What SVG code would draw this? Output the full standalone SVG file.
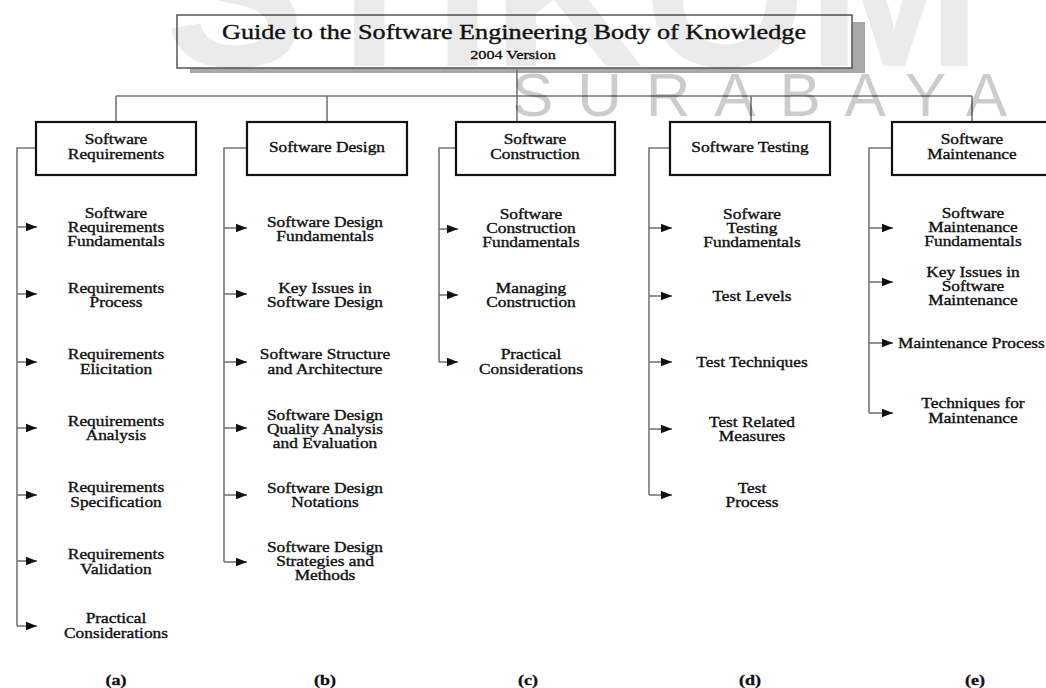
<svg xmlns="http://www.w3.org/2000/svg" width="1046" height="688" viewBox="0 0 1046 688">
<style>
text{font-family:"Liberation Serif","Times New Roman",serif;fill:#111;text-anchor:middle}
.n text,#header text,.lbl text{stroke:#111;stroke-width:0.35}
.n text{font-size:14px}
.lbl text{font-size:15px;font-weight:bold}
.box{fill:#fff;stroke:#111;stroke-width:2.2}
.c{fill:none;stroke:#777;stroke-width:1.6}
.wm{font-family:"Liberation Sans",Arial,sans-serif;fill:#000}
</style>
<defs>
<marker id="ah" markerWidth="12" markerHeight="10" refX="11" refY="5" orient="auto" markerUnits="userSpaceOnUse"><path d="M0,0.8 L11,5 L0,9.2 z" fill="#111"/></marker>
</defs>
<rect width="1046" height="688" fill="#fff"/>

<g id="header">
<rect x="190" y="22" width="675" height="51" fill="#a8a8a8"/>
<rect x="177" y="15" width="675" height="53" fill="#fff" stroke="#555" stroke-width="1.5"/>
<g transform="translate(514 0) scale(1.31 1)"><text x="0" y="39" font-size="20">Guide to the Software Engineering Body of Knowledge</text></g>
<g transform="translate(513 0) scale(1.2 1)"><text x="0" y="59" font-size="13.5">2004 Version</text></g>
</g>

<g id="connectors">
<path class="c" d="M517,68 V122 M116,96 H972 M116,96 V122 M327,96 V122 M751,96 V122 M972,96 V122"/>
<path class="c" d="M36,148 H17 V626 M247,148 H224 V562 M456,148 H439 V362 M670,148 H649 V495 M892,148 H869 V413"/>
<g class="c" marker-end="url(#ah)">
<path d="M17,227 H37"/><path d="M17,294 H37"/><path d="M17,362 H37"/><path d="M17,428 H37"/><path d="M17,495 H37"/><path d="M17,561 H37"/><path d="M17,626 H37"/>
<path d="M224,228 H247"/><path d="M224,294 H247"/><path d="M224,362 H247"/><path d="M224,428 H247"/><path d="M224,495 H247"/><path d="M224,562 H247"/>
<path d="M439,229 H458"/><path d="M439,295 H458"/><path d="M439,362 H458"/>
<path d="M649,228 H672"/><path d="M649,296 H672"/><path d="M649,362 H672"/><path d="M649,429 H672"/><path d="M649,495 H672"/>
<path d="M869,228 H893"/><path d="M869,282 H893"/><path d="M869,343 H893"/><path d="M869,413 H893"/>
</g>
</g>

<g id="box-a" class="n"><rect class="box" x="36" y="122" width="160" height="53"/><g transform="translate(116 0) scale(1.24 1)"><text><tspan x="0" y="144">Software</tspan><tspan x="0" y="159">Requirements</tspan></text></g></g>
<g id="box-b" class="n"><rect class="box" x="247" y="122" width="160" height="53"/><g transform="translate(327 0) scale(1.24 1)"><text x="0" y="152">Software Design</text></g></g>
<g id="box-c" class="n"><rect class="box" x="456" y="122" width="159" height="53"/><g transform="translate(535 0) scale(1.24 1)"><text><tspan x="0" y="144">Software</tspan><tspan x="0" y="159">Construction</tspan></text></g></g>
<g id="box-d" class="n"><rect class="box" x="670" y="122" width="160" height="53"/><g transform="translate(750 0) scale(1.24 1)"><text x="0" y="152">Software Testing</text></g></g>
<g id="box-e" class="n"><rect class="box" x="892" y="122" width="160" height="53"/><g transform="translate(972 0) scale(1.24 1)"><text><tspan x="0" y="144">Software</tspan><tspan x="0" y="159">Maintenance</tspan></text></g></g>

<g id="a1" class="n" transform="translate(116 0) scale(1.24 1)"><text><tspan x="0" y="218">Software</tspan><tspan x="0" y="232">Requirements</tspan><tspan x="0" y="246">Fundamentals</tspan></text></g>
<g id="a2" class="n" transform="translate(116 0) scale(1.24 1)"><text><tspan x="0" y="293">Requirements</tspan><tspan x="0" y="307">Process</tspan></text></g>
<g id="a3" class="n" transform="translate(116 0) scale(1.24 1)"><text><tspan x="0" y="359">Requirements</tspan><tspan x="0" y="374">Elicitation</tspan></text></g>
<g id="a4" class="n" transform="translate(116 0) scale(1.24 1)"><text><tspan x="0" y="426">Requirements</tspan><tspan x="0" y="440">Analysis</tspan></text></g>
<g id="a5" class="n" transform="translate(116 0) scale(1.24 1)"><text><tspan x="0" y="492">Requirements</tspan><tspan x="0" y="507">Specification</tspan></text></g>
<g id="a6" class="n" transform="translate(116 0) scale(1.24 1)"><text><tspan x="0" y="559">Requirements</tspan><tspan x="0" y="574">Validation</tspan></text></g>
<g id="a7" class="n" transform="translate(116 0) scale(1.24 1)"><text><tspan x="0" y="623">Practical</tspan><tspan x="0" y="638">Considerations</tspan></text></g>

<g id="b1" class="n" transform="translate(325 0) scale(1.24 1)"><text><tspan x="0" y="227">Software Design</tspan><tspan x="0" y="241">Fundamentals</tspan></text></g>
<g id="b2" class="n" transform="translate(325 0) scale(1.24 1)"><text><tspan x="0" y="293">Key Issues in</tspan><tspan x="0" y="307">Software Design</tspan></text></g>
<g id="b3" class="n" transform="translate(325 0) scale(1.24 1)"><text><tspan x="0" y="359">Software Structure</tspan><tspan x="0" y="374">and Architecture</tspan></text></g>
<g id="b4" class="n" transform="translate(325 0) scale(1.24 1)"><text><tspan x="0" y="420">Software Design</tspan><tspan x="0" y="434">Quality Analysis</tspan><tspan x="0" y="448">and Evaluation</tspan></text></g>
<g id="b5" class="n" transform="translate(325 0) scale(1.24 1)"><text><tspan x="0" y="493">Software Design</tspan><tspan x="0" y="507">Notations</tspan></text></g>
<g id="b6" class="n" transform="translate(325 0) scale(1.24 1)"><text><tspan x="0" y="552">Software Design</tspan><tspan x="0" y="566">Strategies and</tspan><tspan x="0" y="580">Methods</tspan></text></g>

<g id="c1" class="n" transform="translate(531 0) scale(1.24 1)"><text><tspan x="0" y="219">Software</tspan><tspan x="0" y="233">Construction</tspan><tspan x="0" y="247">Fundamentals</tspan></text></g>
<g id="c2" class="n" transform="translate(531 0) scale(1.24 1)"><text><tspan x="0" y="293">Managing</tspan><tspan x="0" y="307">Construction</tspan></text></g>
<g id="c3" class="n" transform="translate(531 0) scale(1.24 1)"><text><tspan x="0" y="359">Practical</tspan><tspan x="0" y="374">Considerations</tspan></text></g>

<g id="d1" class="n" transform="translate(752 0) scale(1.24 1)"><text><tspan x="0" y="219">Sofware</tspan><tspan x="0" y="233">Testing</tspan><tspan x="0" y="247">Fundamentals</tspan></text></g>
<g id="d2" class="n" transform="translate(752 0) scale(1.24 1)"><text x="0" y="301">Test Levels</text></g>
<g id="d3" class="n" transform="translate(752 0) scale(1.24 1)"><text x="0" y="367">Test Techniques</text></g>
<g id="d4" class="n" transform="translate(752 0) scale(1.24 1)"><text><tspan x="0" y="427">Test Related</tspan><tspan x="0" y="441">Measures</tspan></text></g>
<g id="d5" class="n" transform="translate(752 0) scale(1.24 1)"><text><tspan x="0" y="493">Test</tspan><tspan x="0" y="507">Process</tspan></text></g>

<g id="e1" class="n" transform="translate(973 0) scale(1.24 1)"><text><tspan x="0" y="218">Software</tspan><tspan x="0" y="232">Maintenance</tspan><tspan x="0" y="246">Fundamentals</tspan></text></g>
<g id="e2" class="n" transform="translate(973 0) scale(1.24 1)"><text><tspan x="0" y="277">Key Issues in</tspan><tspan x="0" y="291">Software</tspan><tspan x="0" y="305">Maintenance</tspan></text></g>
<g id="e3" class="n" transform="translate(898 0) scale(1.24 1)"><text x="0" y="348" style="text-anchor:start">Maintenance Process</text></g>
<g id="e4" class="n" transform="translate(973 0) scale(1.24 1)"><text><tspan x="0" y="408">Techniques for</tspan><tspan x="0" y="423">Maintenance</tspan></text></g>

<g id="labels" class="lbl">
<g transform="translate(116 0) scale(1.2 1)"><text x="0" y="685">(a)</text></g>
<g transform="translate(325 0) scale(1.2 1)"><text x="0" y="685">(b)</text></g>
<g transform="translate(528 0) scale(1.2 1)"><text x="0" y="685">(c)</text></g>
<g transform="translate(750 0) scale(1.2 1)"><text x="0" y="685">(d)</text></g>
<g transform="translate(975 0) scale(1.2 1)"><text x="0" y="685">(e)</text></g>
</g>

<g id="watermark">
<text class="wm" x="165" y="66" font-size="210" font-weight="bold" fill-opacity="0.08" style="text-anchor:start">STIKOM</text>
<text class="wm" x="512" y="116" font-size="62" fill-opacity="0.2" textLength="495" lengthAdjust="spacing" style="text-anchor:start">SURABAYA</text>
</g>
</svg>
